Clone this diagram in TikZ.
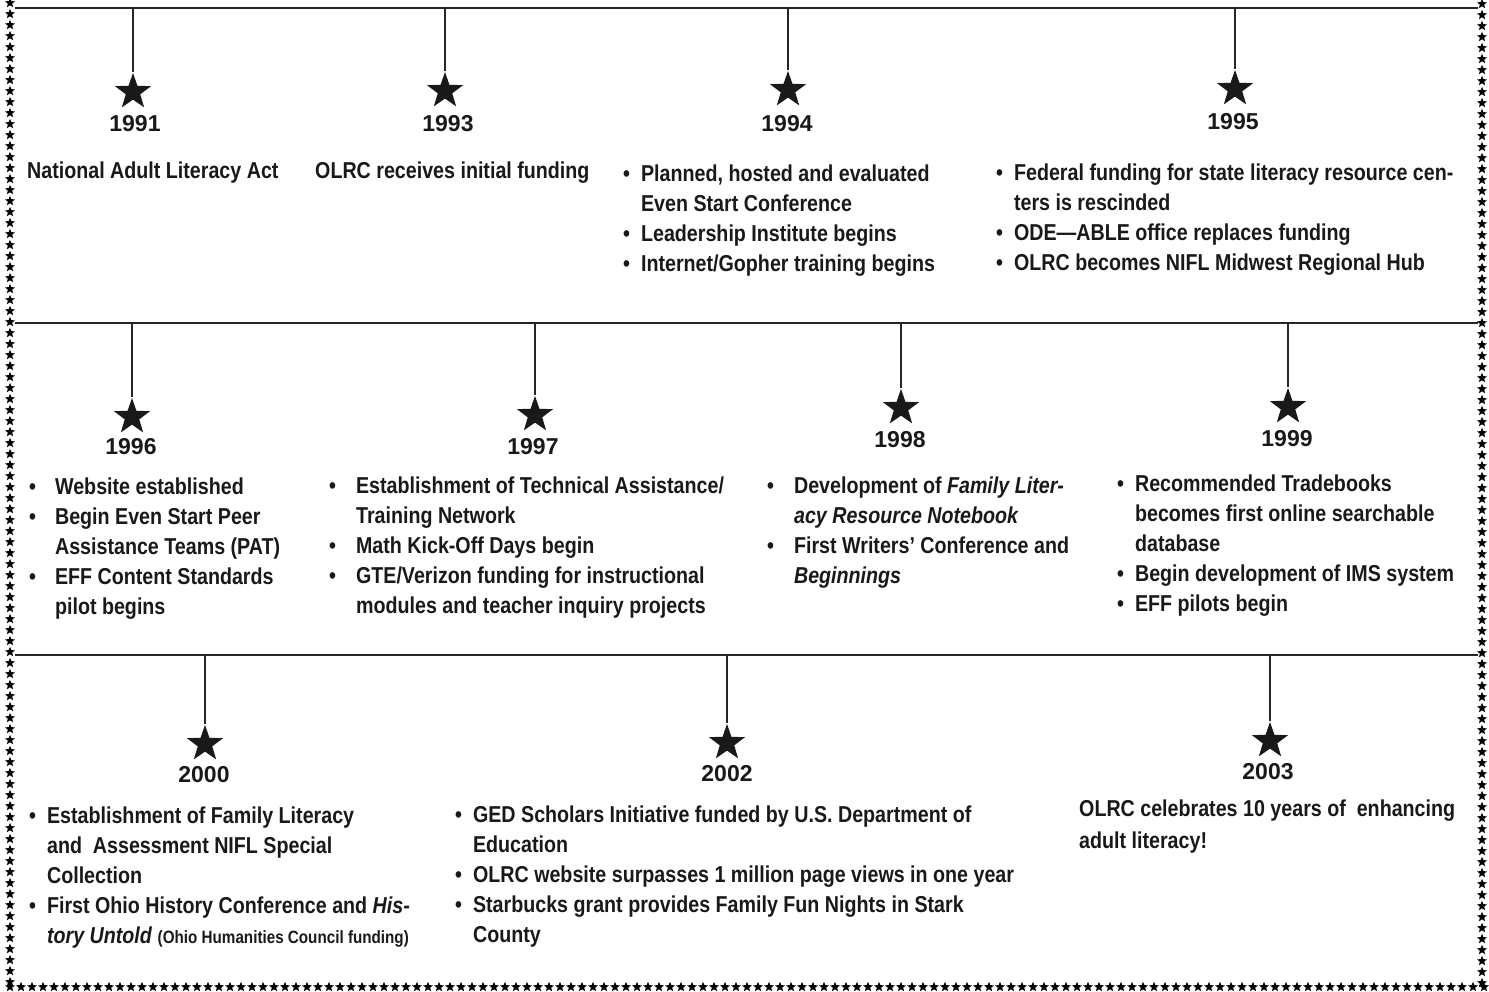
\documentclass[tikz,border=0pt]{standalone}
\usepackage{fontspec}
\setmainfont{Liberation Sans}[FakeStretch=0.855]
\newfontfamily\yearfont{Liberation Sans}
\usetikzlibrary{shapes.geometric}

% bullet list: gap between bullet and text, then the rows
\newcommand{\blist}[2]{\begin{tabular}{@{}l@{\hspace{#1pt}}l@{}}#2\end{tabular}}

\begin{document}
\begin{tikzpicture}[x=1pt, y=-1pt,
    rule/.style={line width=2.6pt, draw=black!85},
    drop/.style={line width=2.2pt, draw=black!85},
    bigstar/.style={star, star points=5, star point ratio=2.5, fill=black!90, minimum size=38pt, inner sep=0pt},
    tinystar/.style={star, star points=5, star point ratio=2.3, fill=black, minimum size=10.5pt, inner sep=0pt},
    year/.style={font=\yearfont\bfseries\fontsize{23}{28}\selectfont, inner sep=0pt, text=black!90},
    entry/.style={anchor=north west, inner sep=0pt, align=left, text=black!90, font=\bfseries\fontsize{23}{30}\selectfont}
]
\useasboundingbox (0,0) rectangle (1489,992);

% star border
\foreach \i in {0,...,89} {
    \node[tinystar] at (10,3+11*\i) {};
    \node[tinystar] at (1482,4+11*\i) {};
}
\foreach \i in {0,...,134} {
    \node[tinystar] at (10+11*\i,987) {};
}

% row rules
\coordinate (r1w) at (15,8);   \coordinate (r1e) at (1478,8);
\coordinate (r2w) at (15,323); \coordinate (r2e) at (1478,323);
\coordinate (r3w) at (15,655); \coordinate (r3e) at (1478,655);
\draw[rule] (r1w) -- (r1e);
\draw[rule] (r2w) -- (r2e);
\draw[rule] (r3w) -- (r3e);

% stars
\node[bigstar] (s91) at (133,92) {};
\node[bigstar] (s93) at (445,91) {};
\node[bigstar] (s94) at (788,90) {};
\node[bigstar] (s95) at (1235,89) {};
\node[bigstar] (s96) at (132,417) {};
\node[bigstar] (s97) at (535,415) {};
\node[bigstar] (s98) at (901,408) {};
\node[bigstar] (s99) at (1288,407) {};
\node[bigstar] (s00) at (205,744) {};
\node[bigstar] (s02) at (727,743) {};
\node[bigstar] (s03) at (1270,741) {};

\foreach \s in {s91,s93,s94,s95} \draw[drop] (\s.center |- r1w) -- (\s.north);
\foreach \s in {s96,s97,s98,s99} \draw[drop] (\s.center |- r2w) -- (\s.north);
\foreach \s in {s00,s02,s03} \draw[drop] (\s.center |- r3w) -- (\s.north);

% years
\node[year] (y91) at (135,124) {1991};
\node[year] (y93) at (448,124) {1993};
\node[year] (y94) at (787,124) {1994};
\node[year] (y95) at (1233,122) {1995};
\node[year] (y96) at (131,447) {1996};
\node[year] (y97) at (533,447) {1997};
\node[year] (y98) at (900,440) {1998};
\node[year] (y99) at (1287,439) {1999};
\node[year] (y00) at (204,775) {2000};
\node[year] (y02) at (727,774) {2002};
\node[year] (y03) at (1268,772) {2003};

% events
\node[entry] (t91) at (27,161.5) {National Adult Literacy Act};
\node[entry] (t93) at (315,161.5) {OLRC receives initial funding};
\node[entry] (t94) at (623,160.5) {\blist{11}{%
    \textbullet & Planned, hosted and evaluated\\
                & Even Start Conference\\
    \textbullet & Leadership Institute begins\\
    \textbullet & Internet/Gopher training begins}};
\node[entry] (t95) at (996,159.5) {\blist{11}{%
    \textbullet & Federal funding for state literacy resource cen-\\
                & ters is rescinded\\
    \textbullet & ODE—ABLE office replaces funding\\
    \textbullet & OLRC becomes NIFL Midwest Regional Hub}};

\node[entry] (t96) at (29,473.5) {\blist{19}{%
    \textbullet & Website established\\
    \textbullet & Begin Even Start Peer\\
                & Assistance Teams (PAT)\\
    \textbullet & EFF Content Standards\\
                & pilot begins}};
\node[entry] (t97) at (329,472.5) {\blist{20}{%
    \textbullet & Establishment of Technical Assistance/\\
                & Training Network\\
    \textbullet & Math Kick-Off Days begin\\
    \textbullet & GTE/Verizon funding for instructional\\
                & modules and teacher inquiry projects}};
\node[entry] (t98) at (767,472.5) {\blist{20}{%
    \textbullet & Development of \textit{Family Liter-}\\
                & \textit{acy Resource Notebook}\\
    \textbullet & First Writers' Conference and\\
                & \textit{Beginnings}}};
\node[entry] (t99) at (1117,470.5) {\blist{11}{%
    \textbullet & Recommended Tradebooks\\
                & becomes first online searchable\\
                & database\\
    \textbullet & Begin development of IMS system\\
    \textbullet & EFF pilots begin}};

\node[entry] (t00) at (29,802.5) {\blist{11}{%
    \textbullet & Establishment of Family Literacy\\
                & and~ Assessment NIFL Special\\
                & Collection\\
    \textbullet & First Ohio History Conference and \textit{His-}\\
                & \textit{tory Untold} {\fontsize{17.8}{30}\selectfont (Ohio Humanities Council funding)}}};
\node[entry] (t02) at (455,801.5) {\blist{11}{%
    \textbullet & GED Scholars Initiative funded by U.S. Department of\\
                & Education\\
    \textbullet & OLRC website surpasses 1 million page views in one year\\
    \textbullet & Starbucks grant provides Family Fun Nights in Stark\\
                & County}};
\node[entry] (t03) at (1079,799.5) {OLRC celebrates 10 years of~ enhancing\\[2pt] adult literacy!};

\end{tikzpicture}
\end{document}
